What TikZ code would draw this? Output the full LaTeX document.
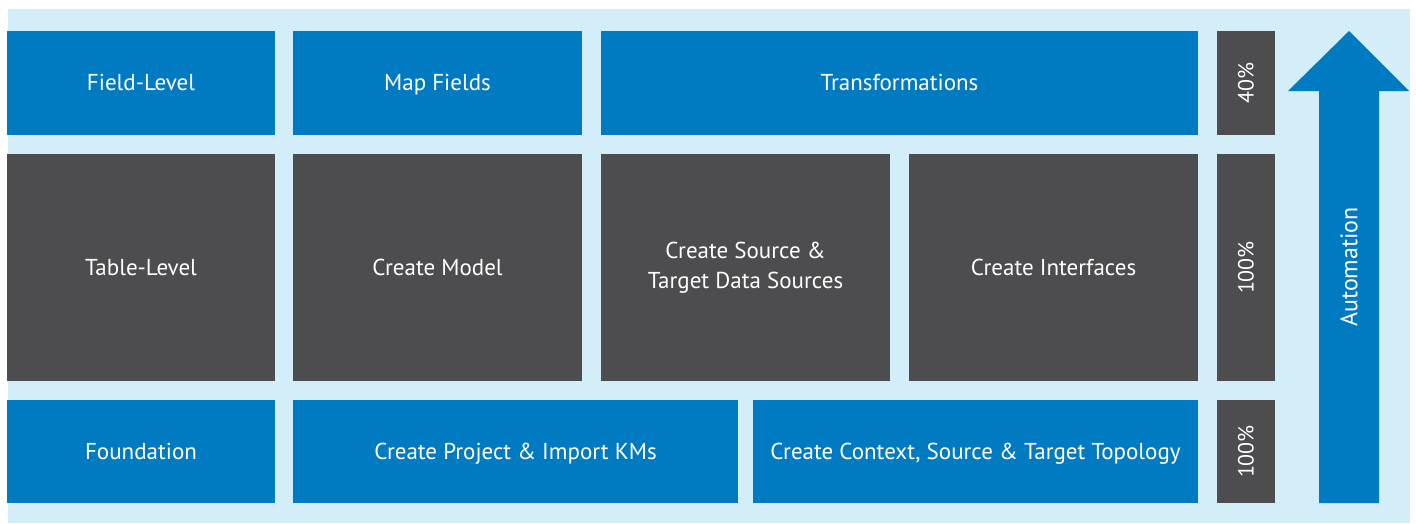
\documentclass[tikz,border=0pt]{standalone}
\usepackage{fontspec}
\setmainfont{PT Sans}
\usepackage{tikz}
\usetikzlibrary{positioning}
\definecolor{odiblue}{RGB}{0,123,193}
\definecolor{odigray}{RGB}{77,77,79}
\definecolor{odibg}{RGB}{212,238,249}
\tikzstyle{layer}=[fill=odiblue,text=white,inner sep=0pt,align=center,text height=15pt,text depth=0pt,font=\fontsize{23}{30}\selectfont]
\tikzstyle{heavy}=[layer,fill=odigray]
\tikzstyle{pct}=[heavy,rotate=90,font=\fontsize{22}{26}\selectfont]

\begin{document}
\begin{tikzpicture}[x=1pt,y=-1pt]
\useasboundingbox (0,0) rectangle (1416,523);
\fill [odibg] (8,9) rectangle (1410,523);
% field level
\node [layer,minimum width=268pt,minimum height=104pt] (field) at (141,83) {Field-Level};
\node [layer,minimum width=289pt,minimum height=104pt] (map) at (437.5,83) {Map Fields};
\node [layer,minimum width=597pt,minimum height=104pt] (trans) at (899.5,83) {Transformations};
\node [pct,minimum width=104pt,minimum height=58pt] (p40) at (1246,83) {40\%};
% table level
\node [heavy,minimum width=268pt,minimum height=227pt] (table) at (141,267.5) {Table-Level};
\node [heavy,minimum width=289pt,minimum height=227pt] (model) at (437.5,267.5) {Create Model};
\node [heavy,text height={},text depth={},minimum width=289pt,minimum height=227pt] (sources) at (745.5,267.5) {Create Source \&\\Target Data Sources};
\node [heavy,minimum width=289pt,minimum height=227pt] (iface) at (1053.5,267.5) {Create Interfaces};
\node [pct,minimum width=227pt,minimum height=58pt] (p100a) at (1246,267.5) {100\%};
% foundation
\node [layer,minimum width=268pt,minimum height=103pt] (found) at (141,451.5) {Foundation};
\node [layer,minimum width=445pt,minimum height=103pt] (project) at (515.5,451.5) {Create Project \& Import KMs};
\node [layer,minimum width=445pt,minimum height=103pt] (topo) at (975.5,451.5) {Create Context, Source \& Target Topology};
\node [pct,minimum width=103pt,minimum height=58pt] (p100b) at (1246,451.5) {100\%};
% arrow
\fill [odiblue] (1349,31) -- (1409,91) -- (1379,91) -- (1379,503) -- (1319,503) -- (1319,91) -- (1288,91) -- cycle;
\node [text=white,rotate=90,font=\fontsize{24}{28}\selectfont] (auto) at (1349,267) {Automation};
\end{tikzpicture}
\end{document}
